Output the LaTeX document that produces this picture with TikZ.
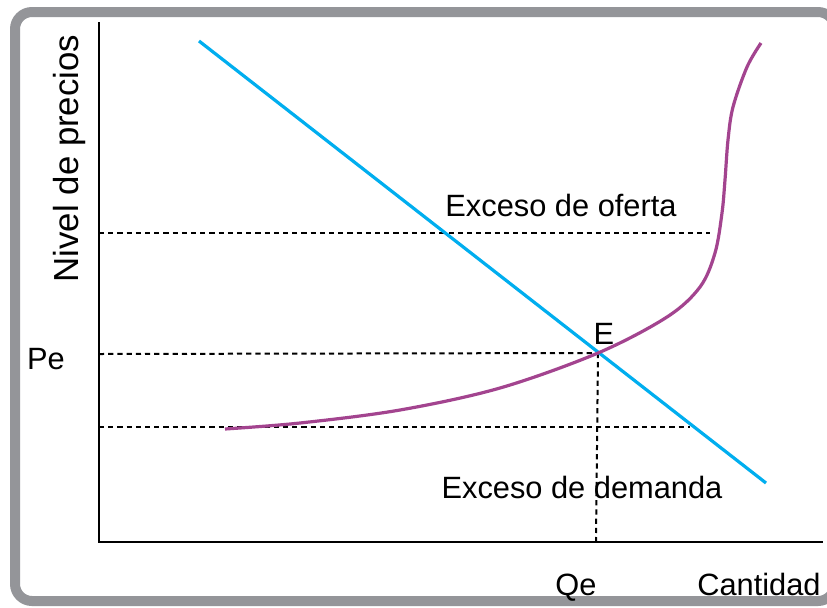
\documentclass[tikz,border=0pt]{standalone}
\usepackage{fontspec}
\setmainfont{Liberation Sans}
\definecolor{framegray}{RGB}{148,149,153}
\definecolor{demblue}{RGB}{0,174,239}
\definecolor{suppurple}{RGB}{163,68,143}
\begin{document}
\begin{tikzpicture}[x=0.5pt,y=-0.5pt,
  lbl/.style={inner sep=0pt,anchor=base,font=\fontsize{15.4pt}{18pt}\selectfont},
  axisline/.style={line width=1.3pt,black},
  guide/.style={line width=1pt,black,dash pattern=on 2.6pt off 2pt},
  curve/.style={line width=1.6pt}]
\useasboundingbox (0,0) rectangle (827,607);
\clip (0,0) rectangle (827,607);
\fill[white] (0,0) rectangle (827,607);
\draw[framegray,line width=5pt,rounded corners=8.5pt] (15,12) rectangle (835,601);
% coordinates
\coordinate (ytop) at (99,22);
\coordinate (orig) at (99,542);
\coordinate (xend) at (823,542);
\coordinate (Eq) at (598,353);
\coordinate (qe) at (596,542);
\coordinate (o1) at (99,233);
\coordinate (o2) at (710,233);
\coordinate (p1) at (99,354);
\coordinate (d1) at (99,427);
\coordinate (d2) at (690,427);
\coordinate (b1) at (199,41);
\coordinate (b2) at (766,483);
% guides
\draw[guide] (o1) -- (o2);
\draw[guide] (p1) -- (Eq);
\draw[guide] (d1) -- (d2);
\draw[guide] (Eq) -- (qe);
% axes
\draw[axisline] (ytop) -- (orig) -- (xend);
% demand
\draw[curve,demblue] (b1) -- (b2);
% supply
\draw[curve,suppurple] plot[smooth,tension=0.55] coordinates {(225,429) (300,423) (400,410) (500,388) (598,353) (667,317) (700,287) (715,253) (722,213) (725,180) (728,140) (733,107) (747,67) (761,43)};
% labels
\node[lbl,rotate=90] (ny) at (78,158.5) {\fontsize{17.4pt}{20pt}\selectfont Nivel de precios};
\node[lbl] (eo) at (561,216) {Exceso de oferta};
\node[lbl] (ed) at (582,498) {Exceso de demanda};
\node[lbl] (pe) at (46,369) {Pe};
\node[lbl] (el) at (604,344) {E};
\node[lbl] (qel) at (576,595) {Qe};
\node[lbl] (ca) at (759,595) {Cantidad};
\end{tikzpicture}
\end{document}
